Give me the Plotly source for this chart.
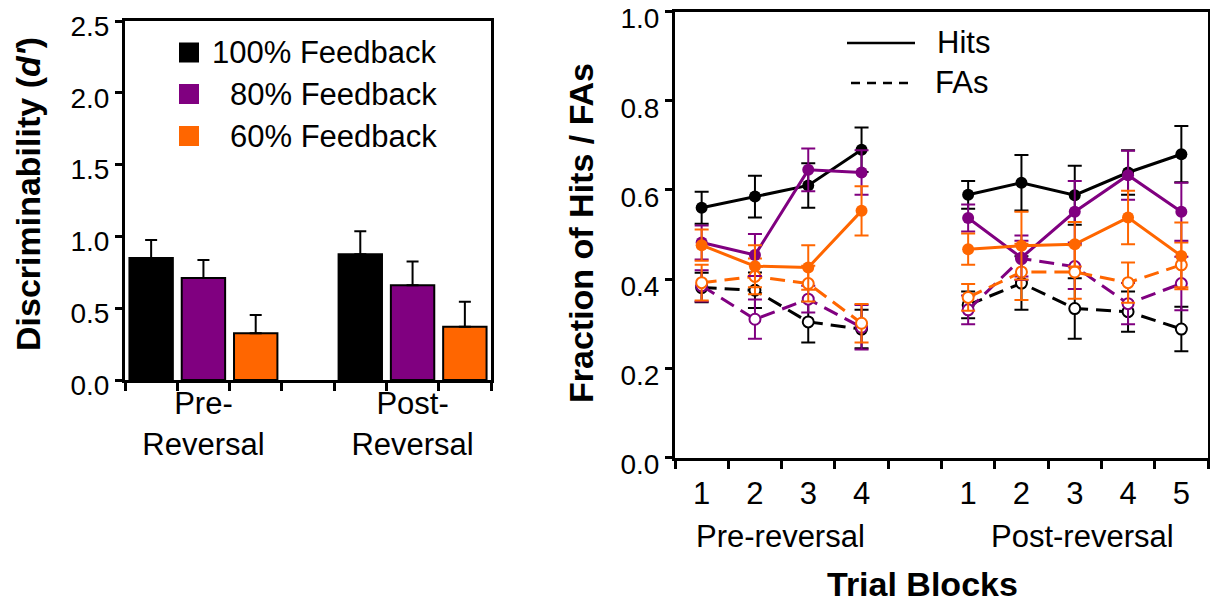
import plotly.graph_objects as go

W, H = 1210, 602

# ---------------- Left panel data (d') ----------------
groups = ["Pre-<br>Reversal", "Post-<br>Reversal"]
feedback_labels = ["100% Feedback", "80% Feedback", "60% Feedback"]
dprime_100 = [0.85, 0.875]
dprime_100_err = [0.125, 0.16]
dprime_80 = [0.71, 0.66]
dprime_80_err = [0.125, 0.165]
dprime_60 = [0.325, 0.37]
dprime_60_err = [0.127, 0.175]

# ---------------- Right panel data (fractions) ----------------
blocks_pre = ["1", "2", "3", "4"]
blocks_post = ["1", "2", "3", "4", "5"]
phase_labels = ["Pre-reversal", "Post-reversal"]

hits_pre_100 = [0.56, 0.585, 0.61, 0.69]
hits_pre_100_err = [0.036, 0.047, 0.05, 0.05]
hits_pre_80 = [0.482, 0.454, 0.645, 0.639]
hits_pre_80_err = [0.038, 0.047, 0.048, 0.05]
hits_pre_60 = [0.476, 0.429, 0.426, 0.553]
hits_pre_60_err = [0.035, 0.047, 0.05, 0.055]
fas_pre_100 = [0.381, 0.375, 0.304, 0.288]
fas_pre_100_err = [0.033, 0.04, 0.046, 0.043]
fas_pre_80 = [0.385, 0.31, 0.355, 0.292]
fas_pre_80_err = [0.035, 0.044, 0.03, 0.05]
fas_pre_60 = [0.392, 0.406, 0.39, 0.301]
fas_pre_60_err = [0.04, 0.04, 0.04, 0.043]

hits_post_100 = [0.589, 0.616, 0.588, 0.639, 0.68]
hits_post_100_err = [0.031, 0.062, 0.066, 0.05, 0.063]
hits_post_80 = [0.537, 0.448, 0.551, 0.633, 0.551]
hits_post_80_err = [0.03, 0.05, 0.069, 0.055, 0.065]
hits_post_60 = [0.467, 0.475, 0.478, 0.538, 0.452]
hits_post_60_err = [0.035, 0.076, 0.05, 0.06, 0.075]
fas_post_100 = [0.342, 0.391, 0.334, 0.327, 0.288]
fas_post_100_err = [0.03, 0.06, 0.068, 0.045, 0.05]
fas_post_80 = [0.331, 0.446, 0.428, 0.345, 0.39]
fas_post_80_err = [0.032, 0.04, 0.05, 0.046, 0.06]
fas_post_60 = [0.359, 0.416, 0.416, 0.392, 0.432]
fas_post_60_err = [0.03, 0.063, 0.06, 0.045, 0.05]

BLACK = "#000000"
PURPLE = "#800080"
ORANGE = "#FF6600"
colors = [BLACK, PURPLE, ORANGE]
FONT = "Liberation Sans, Arial, sans-serif"

fig = go.Figure()

# ---------------- Left panel: bars ----------------
bar_sets = [(dprime_100, dprime_100_err), (dprime_80, dprime_80_err), (dprime_60, dprime_60_err)]
n_series = len(bar_sets)
slot = n_series + 1  # one empty slot between the groups
for s, ((vals, errs), col, lab) in enumerate(zip(bar_sets, colors, feedback_labels)):
    xs = [g * slot + s for g in range(len(groups))]
    fig.add_trace(go.Bar(
        x=xs, y=vals, width=0.83, name=lab,
        marker=dict(color=col, line=dict(color=BLACK, width=2)),
        error_y=dict(type="data", array=errs, arrayminus=[0] * len(errs), symmetric=False,
                     color=BLACK, thickness=2, width=6),
        xaxis="x", yaxis="y", showlegend=False,
    ))

# ---------------- Right panel: lines ----------------
gap = len(blocks_pre)
x_line = list(range(len(blocks_pre))) + [gap] + [gap + 1 + i for i in range(len(blocks_post))]

def join(a, b):
    return list(a) + [None] + list(b)

def join_err(a, b):
    return list(a) + [0] + list(b)

fa_sets = [(fas_pre_100, fas_pre_100_err, fas_post_100, fas_post_100_err),
           (fas_pre_80, fas_pre_80_err, fas_post_80, fas_post_80_err),
           (fas_pre_60, fas_pre_60_err, fas_post_60, fas_post_60_err)]
hit_sets = [(hits_pre_100, hits_pre_100_err, hits_post_100, hits_post_100_err),
            (hits_pre_80, hits_pre_80_err, hits_post_80, hits_post_80_err),
            (hits_pre_60, hits_pre_60_err, hits_post_60, hits_post_60_err)]

for (pre, pre_e, post, post_e), col, lab in zip(fa_sets, colors, feedback_labels):
    fig.add_trace(go.Scatter(
        x=x_line, y=join(pre, post), mode="lines+markers", name="FAs " + lab,
        line=dict(color=col, width=3, dash="15px,8px"),
        marker=dict(symbol="circle", size=11, color="white", line=dict(color=col, width=2)),
        error_y=dict(type="data", array=join_err(pre_e, post_e), color=col, thickness=2, width=7),
        connectgaps=False, xaxis="x2", yaxis="y2", showlegend=False,
    ))

for (pre, pre_e, post, post_e), col, lab in zip(hit_sets, colors, feedback_labels):
    fig.add_trace(go.Scatter(
        x=x_line, y=join(pre, post), mode="lines+markers", name="Hits " + lab,
        line=dict(color=col, width=3),
        marker=dict(symbol="circle", size=12, color=col),
        error_y=dict(type="data", array=join_err(pre_e, post_e), color=col, thickness=2, width=7),
        connectgaps=False, xaxis="x2", yaxis="y2", showlegend=False,
    ))

def px_x(v):
    return v / W

def px_y(v):
    return 1 - v / H

axis_common = dict(showline=True, linewidth=3, linecolor=BLACK, mirror=True,
                   showgrid=False, zeroline=False, automargin=False,
                   ticklabeloverflow="allow")

fig.update_layout(
    width=W, height=H, margin=dict(l=0, r=0, t=0, b=0, autoexpand=False),
    paper_bgcolor="white", plot_bgcolor="white",
    font=dict(family=FONT, color=BLACK),
    barmode="overlay", showlegend=False,
    xaxis=dict(domain=[px_x(125), px_x(491)], range=[-0.5, 6.5], anchor="y",
               tickmode="array", tickvals=[g * slot + 1 for g in range(len(groups))],
               ticktext=groups, ticks="", tickfont=dict(size=31), ticklabelstandoff=-6,
               minor=dict(ticks="outside", tick0=-0.5, dtick=1, ticklen=8,
                          tickwidth=2.5, tickcolor=BLACK, showgrid=False),
               **axis_common),
    yaxis=dict(domain=[px_y(380), px_y(21)], range=[0, 2.5], anchor="x",
               tickmode="linear", tick0=0, dtick=0.5, tickformat=".1f",
               ticks="outside", ticklen=7, tickwidth=2.5, tickcolor=BLACK,
               ticklabelshift=5,
               tickfont=dict(size=28), **axis_common),
    xaxis2=dict(domain=[px_x(675), px_x(1208)], range=[-0.5, len(x_line) - 0.5], anchor="y2",
                tickmode="array", tickvals=[x for x in x_line if x != gap],
                ticktext=blocks_pre + blocks_post, ticks="", tickfont=dict(size=31),
                ticklabelstandoff=6,
                minor=dict(ticks="outside", tick0=-0.5, dtick=1, ticklen=8,
                           tickwidth=2.5, tickcolor=BLACK, showgrid=False),
                **axis_common),
    yaxis2=dict(domain=[px_y(457.5), px_y(11.5)], range=[0, 1.0], anchor="x2",
                tickmode="linear", tick0=0, dtick=0.2, tickformat=".1f",
                ticks="outside", ticklen=7, tickwidth=2.5, tickcolor=BLACK,
                ticklabelshift=7,
                tickfont=dict(size=28), **axis_common),
)

annotations = []
shapes = []

# Left legend (manual)
legend_rows_y = [52.5, 94, 136]
for lab, col, yy in zip(feedback_labels, colors, legend_rows_y):
    shapes.append(dict(type="rect", xref="paper", yref="paper",
                       x0=px_x(179), x1=px_x(199), y0=px_y(yy + 10), y1=px_y(yy - 10),
                       fillcolor=col, line=dict(width=0)))
    annotations.append(dict(text=lab, xref="paper", yref="paper", x=px_x(439), y=px_y(yy),
                            xanchor="right", yanchor="middle", showarrow=False,
                            font=dict(size=31, family=FONT, color=BLACK)))

# Right legend (manual)
shapes.append(dict(type="line", xref="paper", yref="paper",
                   x0=px_x(847), x1=px_x(915), y0=px_y(43), y1=px_y(43),
                   line=dict(color=BLACK, width=2.5)))
shapes.append(dict(type="line", xref="paper", yref="paper",
                   x0=px_x(851), x1=px_x(915), y0=px_y(83), y1=px_y(83),
                   line=dict(color=BLACK, width=2.5, dash="9px,7px")))
annotations.append(dict(text="Hits", xref="paper", yref="paper", x=px_x(935), y=px_y(43),
                        xanchor="left", yanchor="middle", showarrow=False,
                        font=dict(size=31, family=FONT)))
annotations.append(dict(text="FAs", xref="paper", yref="paper", x=px_x(933), y=px_y(83),
                        xanchor="left", yanchor="middle", showarrow=False,
                        font=dict(size=31, family=FONT)))

# Axis titles
annotations.append(dict(text="<b>Discriminability (<i>d'</i>)</b>", xref="paper", yref="paper",
                        x=px_x(28), y=px_y(194), textangle=-90, showarrow=False,
                        xanchor="center", yanchor="middle", font=dict(size=34, family=FONT)))
annotations.append(dict(text="<b>Fraction of Hits / FAs</b>", xref="paper", yref="paper",
                        x=px_x(581), y=px_y(233), textangle=-90, showarrow=False,
                        xanchor="center", yanchor="middle", font=dict(size=34, family=FONT)))
annotations.append(dict(text="<b>Trial Blocks</b>", xref="paper", yref="paper",
                        x=px_x(923), y=px_y(584), showarrow=False,
                        xanchor="center", yanchor="middle", font=dict(size=34, family=FONT)))
# Phase labels under block numbers
annotations.append(dict(text=phase_labels[0], xref="paper", yref="paper",
                        x=px_x(780), y=px_y(536), showarrow=False,
                        xanchor="center", yanchor="middle", font=dict(size=31, family=FONT)))
annotations.append(dict(text=phase_labels[1], xref="paper", yref="paper",
                        x=px_x(1082), y=px_y(536), showarrow=False,
                        xanchor="center", yanchor="middle", font=dict(size=31, family=FONT)))

fig.update_layout(annotations=annotations, shapes=shapes)

fig.write_html("out.html")
